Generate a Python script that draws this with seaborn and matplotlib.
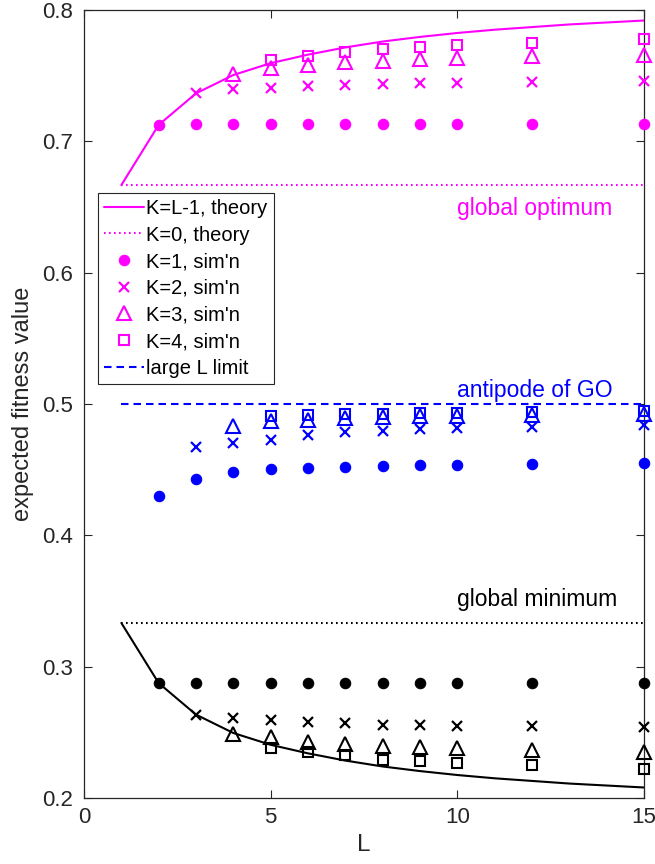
import matplotlib
matplotlib.use("Agg")
import matplotlib.pyplot as plt
import seaborn as sns
import pandas as pd

# ---- data -------------------------------------------------------------
L_theory = list(range(1, 16))
theory_max = [0.6667, 0.7125, 0.7365, 0.7505, 0.7595, 0.7660, 0.7715, 0.7760,
              0.7795, 0.7825, 0.7850, 0.7870, 0.7890, 0.7905, 0.7920]
theory_min = [0.3333, 0.2875, 0.2635, 0.2495, 0.2405, 0.2340, 0.2285, 0.2240,
              0.2205, 0.2175, 0.2150, 0.2130, 0.2110, 0.2095, 0.2080]
k0_max = 2 / 3
k0_min = 1 / 3
large_L_limit = 0.5

L_k1 = [2, 3, 4, 5, 6, 7, 8, 9, 10, 12, 15]
L_k2 = [3, 4, 5, 6, 7, 8, 9, 10, 12, 15]
L_k3 = [4, 5, 6, 7, 8, 9, 10, 12, 15]
L_k4 = [5, 6, 7, 8, 9, 10, 12, 15]

# local optima reached when maximising (magenta)
max_k1 = [0.7125, 0.7130, 0.7130, 0.7130, 0.7130, 0.7130, 0.7130, 0.7130, 0.7130, 0.7130, 0.7130]
max_k2 = [0.7367, 0.7395, 0.7408, 0.7422, 0.7429, 0.7438, 0.7442, 0.7445, 0.7451, 0.7460]
max_k3 = [0.7510, 0.7555, 0.7585, 0.7605, 0.7615, 0.7625, 0.7635, 0.7650, 0.7660]
max_k4 = [0.7618, 0.7650, 0.7678, 0.7706, 0.7722, 0.7734, 0.7750, 0.7777]

# antipodes of the optima (blue)
anti_k1 = [0.4296, 0.4430, 0.4481, 0.4506, 0.4514, 0.4524, 0.4527, 0.4532, 0.4539, 0.4542, 0.4547]
anti_k2 = [0.4671, 0.4701, 0.4729, 0.4765, 0.4785, 0.4797, 0.4810, 0.4815, 0.4828, 0.4843]
anti_k3 = [0.4835, 0.4868, 0.4881, 0.4891, 0.4899, 0.4906, 0.4911, 0.4919, 0.4924]
anti_k4 = [0.4911, 0.4916, 0.4924, 0.4924, 0.4929, 0.4932, 0.4937, 0.4944]

# local minima reached when minimising (black)
min_k1 = [0.2875, 0.2873, 0.2873, 0.2873, 0.2873, 0.2873, 0.2873, 0.2873, 0.2873, 0.2873, 0.2873]
min_k2 = [0.2633, 0.2608, 0.2595, 0.2575, 0.2570, 0.2557, 0.2557, 0.2552, 0.2549, 0.2539]
min_k3 = [0.2489, 0.2468, 0.2423, 0.2413, 0.2397, 0.2387, 0.2380, 0.2362, 0.2354]
min_k4 = [0.2380, 0.2347, 0.2329, 0.2291, 0.2278, 0.2266, 0.2253, 0.2223]

x_ticks = [0, 5, 10, 15]
y_ticks = [0.2, 0.3, 0.4, 0.5, 0.6, 0.7, 0.8]

# ---- style ------------------------------------------------------------
sns.set_theme(style="white")
plt.rcParams["font.family"] = ["Liberation Sans", "DejaVu Sans"]
AX_GRAY = "#262626"
MAGENTA = "#ff00ff"
BLUE = "#0000ff"
BLACK = "#000000"

fig = plt.figure(figsize=(6.55, 8.64), dpi=100)
ax = fig.add_axes([84 / 655, 66 / 864, 560 / 655, 788 / 864])

dotted = (0, (0.8, 1.6))
dashed = (0, (3.6, 2.4))


def theory_line(x, y, color, ls, label=None):
    df = pd.DataFrame({"L": x, "fitness": y})
    sns.lineplot(data=df, x="L", y="fitness", ax=ax, color=color, linestyle=ls,
                 linewidth=1.5, estimator=None, sort=False, label=label,
                 legend=False, zorder=2)


def sim_points(x, y, color, marker, label=None):
    df = pd.DataFrame({"L": x, "fitness": y})
    style = dict(o=dict(markersize=7.5, markerfacecolor=color, markeredgewidth=0.8),
                 x=dict(markersize=6.5, markeredgewidth=1.6),
                 **{"^": dict(markersize=10, markerfacecolor="none", markeredgewidth=1.5)},
                 s=dict(markersize=7.5, markerfacecolor="none", markeredgewidth=1.5))[marker]
    sns.lineplot(data=df, x="L", y="fitness", ax=ax, color=color, linestyle="",
                 marker=marker, markeredgecolor=color, estimator=None, sort=False,
                 label=label, legend=False, zorder=3, clip_on=False, **style)


# theory curves
theory_line(L_theory, theory_max, MAGENTA, "-", "K=L-1, theory")
theory_line([1, 15], [k0_max, k0_max], MAGENTA, dotted, "K=0, theory")
theory_line([1, 15], [large_L_limit, large_L_limit], BLUE, dashed, "large L limit")
theory_line(L_theory, theory_min, BLACK, "-")
theory_line([1, 15], [k0_min, k0_min], BLACK, dotted)

# simulations
sim_points(L_k1, max_k1, MAGENTA, "o", "K=1, sim'n")
sim_points(L_k2, max_k2, MAGENTA, "x", "K=2, sim'n")
sim_points(L_k3, max_k3, MAGENTA, "^", "K=3, sim'n")
sim_points(L_k4, max_k4, MAGENTA, "s", "K=4, sim'n")

sim_points(L_k1, anti_k1, BLUE, "o")
sim_points(L_k2, anti_k2, BLUE, "x")
sim_points(L_k3, anti_k3, BLUE, "^")
sim_points(L_k4, anti_k4, BLUE, "s")

sim_points(L_k1, min_k1, BLACK, "o")
sim_points(L_k2, min_k2, BLACK, "x")
sim_points(L_k3, min_k3, BLACK, "^")
sim_points(L_k4, min_k4, BLACK, "s")

# annotations
ax.text(10, 0.649, "global optimum", color=MAGENTA, fontsize=16.5, va="center", ha="left")
ax.text(10, 0.5105, "antipode of GO", color=BLUE, fontsize=16.5, va="center", ha="left")
ax.text(10, 0.351, "global minimum", color=BLACK, fontsize=16.5, va="center", ha="left")

# axes
ax.set_xlim(0, 15)
ax.set_ylim(0.2, 0.8)
ax.set_xticks(x_ticks)
ax.set_xticklabels([str(t) for t in x_ticks])
ax.set_yticks(y_ticks)
ax.set_yticklabels([f"{t:.1f}" for t in y_ticks])
ax.set_xlabel("L", fontsize=17.5, color=AX_GRAY, labelpad=4)
ax.set_ylabel("expected fitness value", fontsize=17, color=AX_GRAY, labelpad=6)
for side in ["left", "right", "top", "bottom"]:
    ax.spines[side].set_visible(True)
    ax.spines[side].set_color(AX_GRAY)
    ax.spines[side].set_linewidth(0.9)
ax.tick_params(axis="both", which="major", direction="in", length=5.7, width=0.8,
               color=AX_GRAY, labelcolor=AX_GRAY, labelsize=16,
               top=True, right=True, left=True, bottom=True)
ax.tick_params(axis="y", pad=8)
ax.tick_params(axis="x", pad=6.5)

# legend
handles, labels = ax.get_legend_handles_labels()
order = ["K=L-1, theory", "K=0, theory", "K=1, sim'n", "K=2, sim'n",
         "K=3, sim'n", "K=4, sim'n", "large L limit"]
hmap = dict(zip(labels, handles))
leg = ax.legend([hmap[k] for k in order], order, loc="upper left",
                bbox_to_anchor=(0.025, 0.768), borderaxespad=0, fontsize=14.5,
                handlelength=2.0, handletextpad=0.1, borderpad=0.3,
                labelspacing=0.38, frameon=True, fancybox=False, framealpha=1,
                edgecolor=AX_GRAY)
leg.get_frame().set_linewidth(0.8)
for t in leg.get_texts():
    t.set_color("black")

fig.savefig("out.png", dpi=100)
